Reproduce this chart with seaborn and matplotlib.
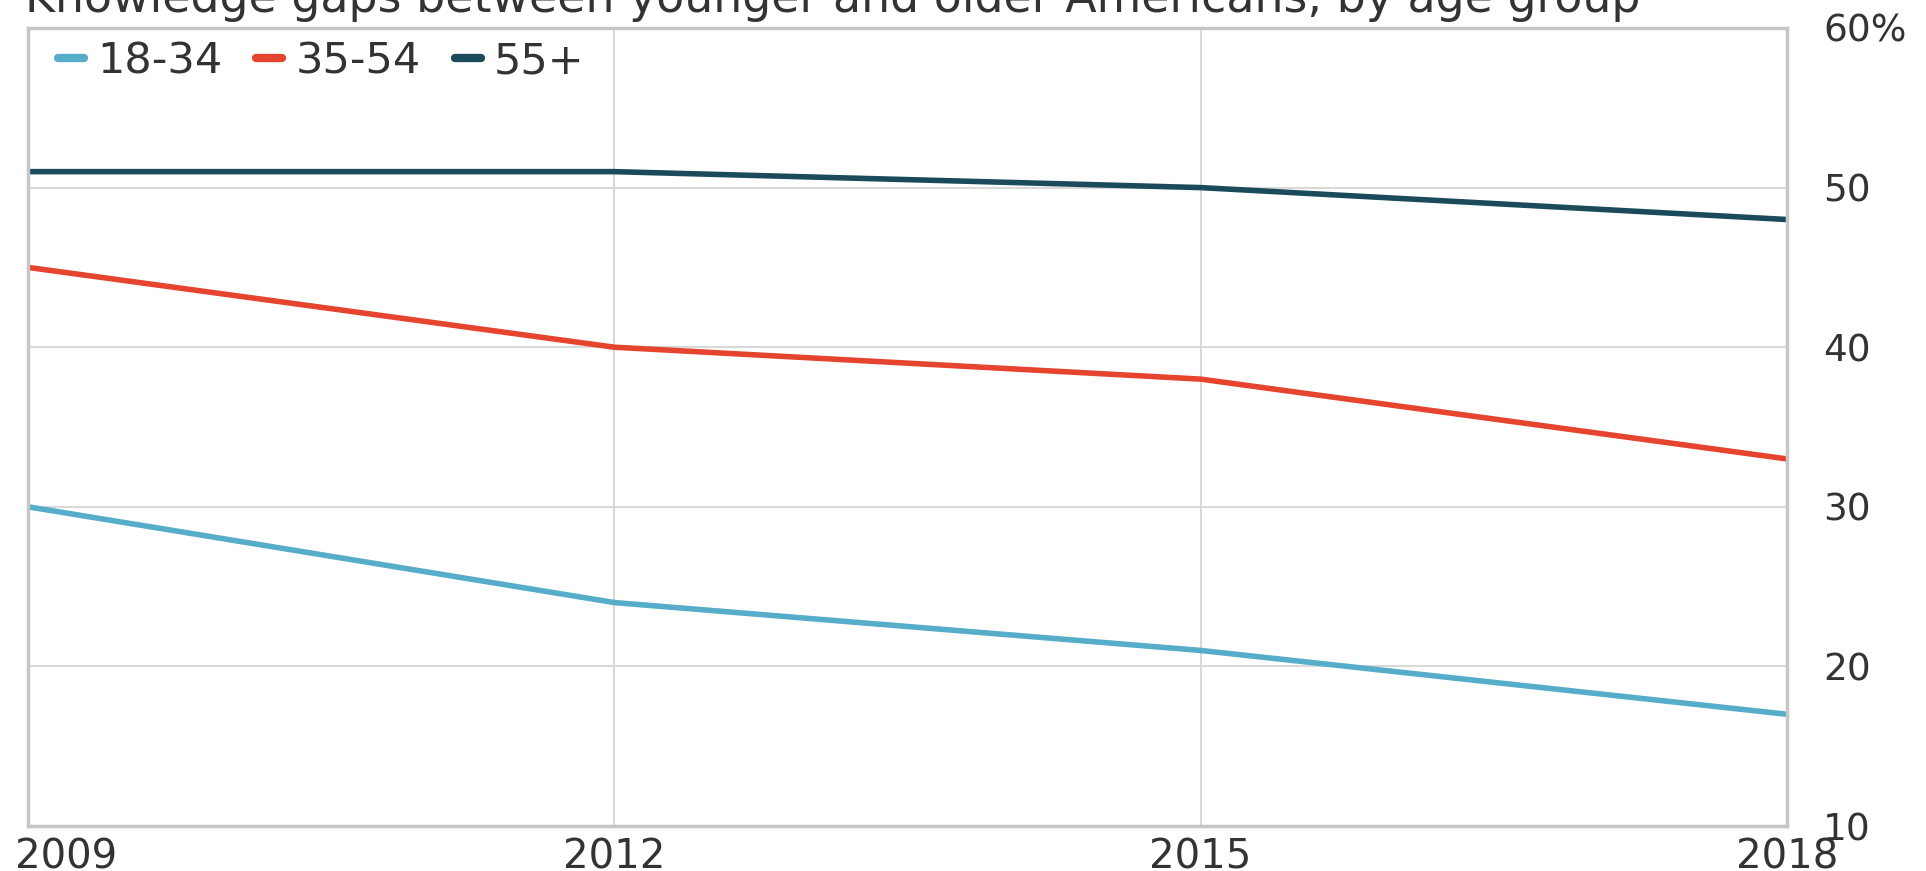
import pandas as pd
import seaborn as sns
import matplotlib.pyplot as plt
from matplotlib.transforms import ScaledTranslation

# Values
years = [2009, 2012, 2015, 2018]
age_groups = ['18-34', '35-54', '55+']
share_18_34 = [30, 24, 21, 17]
share_35_54 = [45, 40, 38, 33]
share_55_plus = [51, 51, 50, 48]
y_ticks = [10, 20, 30, 40, 50, 60]
y_tick_labels = ['10', '20', '30', '40', '50', '60%']
colors = ['#55adc9', '#e5442f', '#1b4b5a']

df = pd.DataFrame({
    'year': years * 3,
    'group': [g for g in age_groups for _ in years],
    'share': share_18_34 + share_35_54 + share_55_plus,
})

sns.set_theme(style='white')
plt.rcParams['font.family'] = ['DejaVu Sans']

W, H = 1926, 871
fig = plt.figure(figsize=(W / 100, H / 100), dpi=100)
ax = fig.add_axes([28 / W, 1 - 826 / H, (1787 - 28) / W, (826 - 28) / H])

sns.lineplot(data=df, x='year', y='share', hue='group', hue_order=age_groups,
             palette=colors, linewidth=4, ax=ax)

ax.set_xlim(2009, 2018)
ax.set_ylim(10, 60)
ax.set_xlabel('')
ax.set_ylabel('')

# y axis on the right side
ax.yaxis.tick_right()
ax.set_yticks(y_ticks, y_tick_labels)
ax.tick_params(axis='y', length=0, pad=26, labelsize=27, labelcolor='#333333')
ax.set_xticks(years, [str(y) for y in years])
ax.tick_params(axis='x', length=0, pad=8, labelsize=29, labelcolor='#333333')

xl = ax.get_xticklabels()
xl[0].set_ha('left')
xl[0].set_transform(xl[0].get_transform() + ScaledTranslation(-13 / 100, 0, fig.dpi_scale_trans))

ax.grid(True, color='#d9d9d9', linewidth=1.5)
ax.set_axisbelow(True)
for s in ax.spines.values():
    s.set_visible(True)
    s.set_color('#c6c6c6')
    s.set_linewidth(2.5)

handles, labels = ax.get_legend_handles_labels()
leg = ax.legend(handles, labels, ncol=3, loc='upper left',
                bbox_to_anchor=(30 / 1759, 1 - 12 / 798), borderaxespad=0,
                borderpad=0, frameon=False, fontsize=31, handlelength=0.6,
                handletextpad=0.3, columnspacing=0.8)
for line in leg.get_lines():
    line.set_linewidth(6)
for t in leg.get_texts():
    t.set_color('#333333')

fig.text(25 / W, 1 - 12 / H,
         'Knowledge gaps between younger and older Americans, by age group',
         fontsize=33, va='baseline', ha='left', color='#333333')

fig.savefig('out.png', dpi=100)
